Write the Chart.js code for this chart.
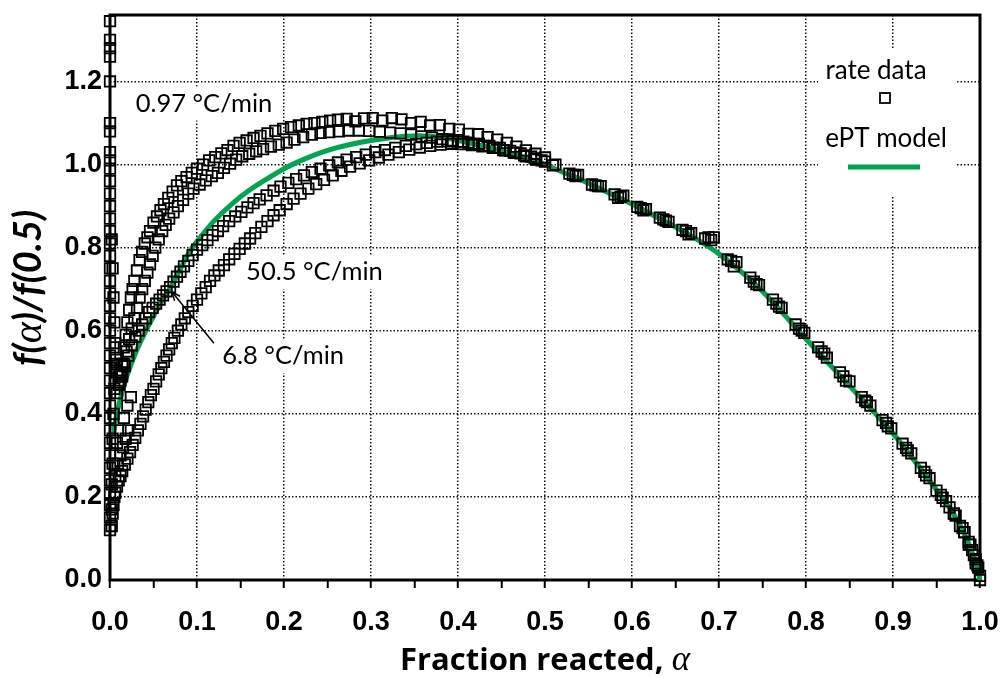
<!DOCTYPE html>
<html>
<head>
<meta charset="utf-8">
<script src="https://cdn.jsdelivr.net/npm/chart.js@4.4.0/dist/chart.umd.min.js"></script>
<style>
  html, body { margin: 0; padding: 0; background: #fff; }
  canvas { display: block; }
</style>
</head>
<body>
<canvas id="chart" width="1003" height="677"></canvas>
<script>
// f(alpha)/f(0.5) vs fraction reacted - rate data at several heating rates + ePT model

// points sitting on (or right next to) the alpha = 0 axis
const axisPoints = [
  [0, 0.12], [0, 0.15], [0, 0.18], [0, 0.21], [0, 0.24], [0, 0.27], [0, 0.30], [0, 0.33],
  [0, 0.36], [0, 0.39], [0, 0.42], [0, 0.45], [0, 0.48], [0, 0.51], [0, 0.54], [0, 0.57],
  [0, 0.60], [0, 0.63], [0, 0.66], [0, 0.69], [0, 0.72], [0, 0.75], [0, 0.78], [0, 0.81],
  [0, 0.84], [0, 0.87], [0, 0.90], [0, 0.93], [0, 0.96], [0, 0.99], [0, 1.01], [0, 1.03],
  [0, 1.08], [0, 1.10], [0, 1.20], [0, 1.26], [0, 1.28], [0, 1.30], [0, 1.345],
  [0.002, 0.17], [0.002, 0.23], [0.003, 0.28], [0.003, 0.34], [0.004, 0.40], [0.005, 0.46],
  [0.006, 0.25], [0.009, 0.28], [0.012, 0.30], [0.015, 0.32], [0.018, 0.34], [0.021, 0.36],
  [0.008, 0.33], [0.012, 0.36], [0.016, 0.39], [0.020, 0.42], [0.024, 0.44]
];

// 0.97 C/min (upper curve)
const rate097 = [
  [0.002, 0.82], [0.003, 0.75], [0.004, 0.68], [0.005, 0.62], [0.006, 0.57], [0.007, 0.53],
  [0.008, 0.50], [0.010, 0.47], [0.012, 0.49], [0.014, 0.52], [0.016, 0.56], [0.018, 0.59],
  [0.020, 0.62], [0.022, 0.65], [0.024, 0.68], [0.026, 0.70], [0.028, 0.72], [0.031, 0.745],
  [0.034, 0.77], [0.037, 0.79], [0.040, 0.81], [0.043, 0.825], [0.046, 0.84], [0.050, 0.86],
  [0.054, 0.875], [0.058, 0.89], [0.062, 0.905], [0.067, 0.92], [0.072, 0.935], [0.077, 0.95],
  [0.082, 0.96], [0.088, 0.97], [0.094, 0.98], [0.100, 0.99], [0.107, 1.0], [0.114, 1.01],
  [0.121, 1.018], [0.128, 1.027], [0.135, 1.035], [0.142, 1.045], [0.149, 1.052], [0.157, 1.058],
  [0.165, 1.064], [0.173, 1.069], [0.181, 1.075], [0.190, 1.081], [0.199, 1.086], [0.208, 1.09],
  [0.217, 1.094], [0.226, 1.098], [0.235, 1.10], [0.244, 1.103], [0.253, 1.106], [0.262, 1.108],
  [0.272, 1.11], [0.282, 1.104], [0.292, 1.111], [0.302, 1.112], [0.313, 1.106], [0.324, 1.112],
  [0.335, 1.109], [0.346, 1.1], [0.357, 1.103], [0.368, 1.094], [0.379, 1.095], [0.390, 1.086],
  [0.401, 1.084], [0.412, 1.074], [0.423, 1.073], [0.434, 1.066], [0.445, 1.06], [0.456, 1.052],
  [0.467, 1.043], [0.478, 1.034], [0.489, 1.026], [0.500, 1.017],
  [0.512, 1.0], [0.538, 0.975], [0.564, 0.948], [0.590, 0.925], [0.616, 0.893], [0.642, 0.862],
  [0.668, 0.835], [0.694, 0.825], [0.720, 0.765], [0.746, 0.71], [0.772, 0.655], [0.798, 0.595],
  [0.824, 0.535], [0.850, 0.478], [0.874, 0.42], [0.898, 0.365], [0.921, 0.305], [0.942, 0.245],
  [0.961, 0.19], [0.972, 0.155], [0.982, 0.115], [0.989, 0.085], [0.995, 0.05], [1.000, 0.01]
];

// second upper curve (unlabelled rate)
const rateMid = [
  [0.006, 0.56], [0.008, 0.52], [0.010, 0.49], [0.012, 0.48], [0.014, 0.50], [0.016, 0.52],
  [0.019, 0.55], [0.022, 0.58], [0.025, 0.605], [0.028, 0.63], [0.031, 0.655], [0.034, 0.68],
  [0.037, 0.70], [0.040, 0.72], [0.043, 0.74], [0.046, 0.76], [0.049, 0.78], [0.052, 0.80],
  [0.056, 0.82], [0.060, 0.84], [0.064, 0.855], [0.068, 0.87], [0.073, 0.885], [0.078, 0.90],
  [0.084, 0.915], [0.090, 0.93], [0.096, 0.942], [0.103, 0.952], [0.110, 0.962], [0.117, 0.972],
  [0.124, 0.98], [0.131, 0.992], [0.138, 1.002], [0.145, 1.012], [0.152, 1.02], [0.160, 1.026],
  [0.168, 1.032], [0.176, 1.037], [0.185, 1.043], [0.194, 1.048], [0.203, 1.053], [0.212, 1.06],
  [0.222, 1.066], [0.232, 1.072], [0.242, 1.076], [0.252, 1.078], [0.263, 1.08], [0.274, 1.082],
  [0.286, 1.082], [0.298, 1.081], [0.310, 1.079], [0.322, 1.077], [0.334, 1.075], [0.346, 1.072],
  [0.358, 1.068], [0.370, 1.065], [0.382, 1.061], [0.394, 1.058], [0.406, 1.055], [0.418, 1.05],
  [0.430, 1.045], [0.442, 1.04], [0.454, 1.034], [0.466, 1.028], [0.478, 1.02], [0.490, 1.012],
  [0.532, 0.975], [0.558, 0.95], [0.584, 0.92], [0.610, 0.895], [0.636, 0.868], [0.662, 0.84],
  [0.688, 0.825], [0.714, 0.768], [0.740, 0.718], [0.766, 0.665], [0.792, 0.605], [0.818, 0.55],
  [0.843, 0.49], [0.868, 0.432], [0.892, 0.378], [0.915, 0.318], [0.936, 0.26], [0.955, 0.205],
  [0.970, 0.16], [0.982, 0.115], [0.991, 0.072], [0.997, 0.035]
];

// 6.8 C/min
const rate68 = [
  [0.008, 0.45], [0.011, 0.47], [0.014, 0.49], [0.017, 0.515], [0.021, 0.54], [0.025, 0.565],
  [0.029, 0.585], [0.033, 0.60], [0.037, 0.615], [0.041, 0.63], [0.045, 0.645], [0.049, 0.655],
  [0.053, 0.665], [0.057, 0.675], [0.061, 0.685], [0.065, 0.695], [0.069, 0.705], [0.073, 0.718],
  [0.077, 0.73], [0.081, 0.742], [0.085, 0.755], [0.090, 0.768], [0.095, 0.782], [0.100, 0.795],
  [0.106, 0.806], [0.112, 0.818], [0.118, 0.83], [0.124, 0.84], [0.130, 0.852], [0.137, 0.864],
  [0.144, 0.875], [0.151, 0.886], [0.158, 0.897], [0.165, 0.907], [0.172, 0.916], [0.180, 0.926],
  [0.188, 0.937], [0.196, 0.947], [0.205, 0.956], [0.214, 0.965], [0.223, 0.974], [0.232, 0.982],
  [0.242, 0.99], [0.252, 0.998], [0.262, 1.005], [0.272, 1.012], [0.283, 1.018], [0.294, 1.024],
  [0.305, 1.03], [0.316, 1.035], [0.328, 1.04], [0.340, 1.045], [0.352, 1.049], [0.364, 1.052],
  [0.376, 1.055], [0.388, 1.056], [0.400, 1.055], [0.412, 1.053], [0.424, 1.05], [0.436, 1.045],
  [0.448, 1.04], [0.460, 1.033], [0.472, 1.027], [0.484, 1.019], [0.496, 1.01],
  [0.509, 0.998], [0.535, 0.972], [0.561, 0.948], [0.587, 0.922], [0.613, 0.89], [0.639, 0.865],
  [0.665, 0.832], [0.691, 0.818], [0.717, 0.755], [0.743, 0.712], [0.769, 0.658], [0.795, 0.60],
  [0.821, 0.545], [0.846, 0.48], [0.870, 0.428], [0.894, 0.37], [0.917, 0.312], [0.938, 0.252],
  [0.957, 0.198], [0.970, 0.16], [0.980, 0.125], [0.987, 0.092], [0.993, 0.06], [0.998, 0.03]
];

// 50.5 C/min (lower curve)
const rate505 = [
  [0.002, 0.13], [0.003, 0.16], [0.004, 0.18], [0.005, 0.20], [0.006, 0.21], [0.008, 0.225],
  [0.010, 0.24], [0.012, 0.25], [0.014, 0.262], [0.017, 0.278], [0.020, 0.292], [0.023, 0.308],
  [0.026, 0.325], [0.029, 0.342], [0.032, 0.36], [0.035, 0.376], [0.038, 0.394], [0.041, 0.41],
  [0.044, 0.428], [0.047, 0.445], [0.050, 0.46], [0.053, 0.478], [0.056, 0.495], [0.059, 0.51],
  [0.062, 0.525], [0.065, 0.54], [0.068, 0.555], [0.071, 0.57], [0.074, 0.583], [0.078, 0.60],
  [0.082, 0.615], [0.086, 0.63], [0.090, 0.645], [0.095, 0.66], [0.100, 0.675], [0.105, 0.69],
  [0.110, 0.705], [0.115, 0.72], [0.120, 0.733], [0.125, 0.745], [0.131, 0.758], [0.137, 0.772],
  [0.143, 0.785], [0.149, 0.797], [0.155, 0.81], [0.161, 0.822], [0.167, 0.835], [0.174, 0.85],
  [0.181, 0.864], [0.188, 0.878], [0.195, 0.89], [0.203, 0.905], [0.211, 0.918], [0.219, 0.93],
  [0.228, 0.942], [0.237, 0.953], [0.246, 0.963], [0.256, 0.974], [0.266, 0.985], [0.276, 0.995],
  [0.287, 1.003], [0.298, 1.01], [0.309, 1.017], [0.320, 1.024], [0.332, 1.03], [0.344, 1.036],
  [0.356, 1.041], [0.368, 1.045], [0.380, 1.048], [0.392, 1.05], [0.404, 1.049], [0.416, 1.047],
  [0.428, 1.044], [0.440, 1.04], [0.452, 1.035], [0.464, 1.029], [0.476, 1.022], [0.488, 1.015],
  [0.500, 1.007],
  [0.528, 0.978], [0.554, 0.952], [0.580, 0.928], [0.606, 0.898], [0.632, 0.872], [0.658, 0.843],
  [0.684, 0.822], [0.710, 0.772], [0.736, 0.728], [0.762, 0.675], [0.788, 0.615], [0.814, 0.56],
  [0.839, 0.50], [0.864, 0.44], [0.888, 0.385], [0.911, 0.328], [0.932, 0.27], [0.950, 0.215],
  [0.965, 0.175], [0.977, 0.13], [0.987, 0.085], [0.995, 0.04], [1.000, 0.0]
];

// ePT model curve
const eptModel = [
  [0.004, 0.35], [0.006, 0.38], [0.010, 0.42], [0.015, 0.46], [0.020, 0.495], [0.030, 0.55],
  [0.040, 0.595], [0.050, 0.635], [0.060, 0.672], [0.070, 0.705], [0.080, 0.745], [0.090, 0.785],
  [0.100, 0.815], [0.120, 0.865], [0.140, 0.905], [0.160, 0.938], [0.180, 0.965], [0.200, 0.99],
  [0.220, 1.01], [0.240, 1.027], [0.260, 1.04], [0.280, 1.05], [0.300, 1.058], [0.320, 1.064],
  [0.340, 1.068], [0.360, 1.069], [0.380, 1.066], [0.400, 1.058], [0.420, 1.049], [0.440, 1.039],
  [0.460, 1.028], [0.480, 1.015], [0.500, 1.0], [0.520, 0.982], [0.540, 0.965], [0.560, 0.945],
  [0.580, 0.925], [0.600, 0.905], [0.620, 0.883], [0.640, 0.861], [0.660, 0.838], [0.680, 0.813],
  [0.700, 0.785], [0.720, 0.752], [0.740, 0.715], [0.760, 0.673], [0.780, 0.627], [0.800, 0.58],
  [0.820, 0.535], [0.840, 0.49], [0.860, 0.445], [0.880, 0.40], [0.900, 0.353], [0.920, 0.30],
  [0.940, 0.245], [0.960, 0.188], [0.970, 0.158], [0.980, 0.12], [0.990, 0.072], [0.995, 0.042],
  [1.000, 0.0]
];

// ticks
const xTickValues = [0, 0.05, 0.1, 0.15, 0.2, 0.25, 0.3, 0.35, 0.4, 0.45, 0.5,
                     0.55, 0.6, 0.65, 0.7, 0.75, 0.8, 0.85, 0.9, 0.95, 1.0];
const xTickLabels = ['0.0', '', '0.1', '', '0.2', '', '0.3', '', '0.4', '', '0.5',
                     '', '0.6', '', '0.7', '', '0.8', '', '0.9', '', '1.0'];
const yTickValues = [0, 0.2, 0.4, 0.6, 0.8, 1.0, 1.2];
const yTickLabels = ['0.0', '0.2', '0.4', '0.6', '0.8', '1.0', '1.2'];

const GREEN = '#00a64f';

function toXY(arr) {
  return arr.map(p => ({ x: p[0], y: p[1] }));
}

function squares(label, arr) {
  return {
    label: label,
    data: toXY(arr),
    showLine: false,
    pointStyle: 'rect',
    pointRadius: 7.4,
    pointBorderWidth: 1.8,
    pointBorderColor: '#000',
    pointBackgroundColor: 'rgba(0,0,0,0)',
    clip: false
  };
}

// text labels and arrow, in data coordinates
const notes = [
  { text: '0.97 \u00B0C/min', x: 0.108, y: 1.147 },
  { text: '50.5 \u00B0C/min', x: 0.235, y: 0.741 },
  { text: '6.8 \u00B0C/min', x: 0.199, y: 0.539 }
];
const arrowFrom = [0.1195, 0.570];
const arrowTo = [0.0713, 0.693];

const decorations = {
  id: 'decorations',
  beforeDatasetsDraw(chart) {
    const { ctx, chartArea: a, scales } = chart;
    const xs = scales.x, ys = scales.y;
    ctx.save();
    // white boxes behind the notes
    ctx.font = '25.5px Lato';
    ctx.textAlign = 'center';
    ctx.textBaseline = 'middle';
    notes.forEach(n => {
      const px = xs.getPixelForValue(n.x), py = ys.getPixelForValue(n.y);
      const w = ctx.measureText(n.text).width;
      ctx.fillStyle = '#fff';
      ctx.fillRect(px - w / 2 - 4, py - 17, w + 8, 34);
      ctx.fillStyle = '#000';
      ctx.fillText(n.text, px, py);
    });
    // legend box
    ctx.fillStyle = '#fff';
    ctx.fillRect(818, 48, 137, 147);
    ctx.fillStyle = '#000';
    ctx.font = '26px Lato';
    ctx.textAlign = 'center';
    ctx.fillText('rate data', 876, 71);
    ctx.fillText('ePT model', 886, 139);
    ctx.strokeStyle = '#000';
    ctx.lineWidth = 1.8;
    ctx.strokeRect(880, 93, 10, 10);
    ctx.strokeStyle = GREEN;
    ctx.lineWidth = 5;
    ctx.beginPath();
    ctx.moveTo(848, 167);
    ctx.lineTo(920, 167);
    ctx.stroke();
    // frame
    ctx.strokeStyle = '#000';
    ctx.lineWidth = 3;
    ctx.strokeRect(a.left, a.top, a.right - a.left, a.bottom - a.top);
    ctx.restore();
  },
  afterDatasetsDraw(chart) {
    const { ctx, scales } = chart;
    const xs = scales.x, ys = scales.y;
    ctx.save();
    // arrow for 6.8 C/min
    const x1 = xs.getPixelForValue(arrowFrom[0]), y1 = ys.getPixelForValue(arrowFrom[1]);
    const x2 = xs.getPixelForValue(arrowTo[0]), y2 = ys.getPixelForValue(arrowTo[1]);
    ctx.strokeStyle = '#000';
    ctx.lineWidth = 1.5;
    ctx.beginPath();
    ctx.moveTo(x1, y1);
    ctx.lineTo(x2, y2);
    ctx.stroke();
    const ang = Math.atan2(y2 - y1, x2 - x1);
    ctx.beginPath();
    ctx.moveTo(x2 - 9 * Math.cos(ang - 0.4), y2 - 9 * Math.sin(ang - 0.4));
    ctx.lineTo(x2, y2);
    ctx.lineTo(x2 - 9 * Math.cos(ang + 0.4), y2 - 9 * Math.sin(ang + 0.4));
    ctx.stroke();

    // x title
    ctx.fillStyle = '#000';
    ctx.textBaseline = 'alphabetic';
    const xt1 = 'Fraction reacted, ';
    ctx.font = 'bold 31px "Open Sans"';
    const w1 = ctx.measureText(xt1).width;
    ctx.font = 'italic 35px "Liberation Serif"';
    const w2 = ctx.measureText('\u03B1').width;
    const sx = 545 - (w1 + w2) / 2;
    ctx.font = 'bold 31px "Open Sans"';
    ctx.textAlign = 'left';
    ctx.fillText(xt1, sx, 670);
    ctx.font = 'italic 35px "Liberation Serif"';
    ctx.fillText('\u03B1', sx + w1, 670);

    // y title, rotated
    ctx.translate(41, 288);
    ctx.rotate(-Math.PI / 2);
    const parts = [
      { t: 'f(', f: 'italic bold 38px Lato' },
      { t: '\u03B1', f: 'italic 40px "Liberation Serif"' },
      { t: ')/f(0.5)', f: 'italic bold 38px Lato' }
    ];
    let total = 0;
    parts.forEach(p => { ctx.font = p.f; p.w = ctx.measureText(p.t).width; total += p.w; });
    let cx = -total / 2;
    parts.forEach(p => { ctx.font = p.f; ctx.fillText(p.t, cx, 0); cx += p.w; });
    ctx.restore();
  }
};

const chart = new Chart(document.getElementById('chart'), {
  type: 'scatter',
  data: {
    datasets: [
      squares('axis', axisPoints),
      squares('0.97 C/min', rate097),
      squares('mid', rateMid),
      squares('6.8 C/min', rate68),
      squares('50.5 C/min', rate505),
      {
        label: 'ePT model',
        data: toXY(eptModel),
        showLine: true,
        borderColor: GREEN,
        borderWidth: 5,
        pointRadius: 0,
        tension: 0.3,
        clip: false
      }
    ]
  },
  options: {
    responsive: false,
    animation: false,
    layout: { padding: { top: 15, right: 23, left: 0, bottom: 0 } },
    plugins: { legend: { display: false }, tooltip: { enabled: false } },
    scales: {
      x: {
        type: 'linear',
        min: 0,
        max: 1,
        afterBuildTicks: s => { s.ticks = xTickValues.map(v => ({ value: v })); },
        afterFit: s => { s.height = 97; s.paddingLeft = 0; s.paddingRight = 0; },
        ticks: {
          autoSkip: false,
          maxRotation: 0,
          padding: 18,
          color: '#000',
          font: { family: '"Liberation Sans"', size: 27, weight: 'bold' },
          callback: (v, i) => xTickLabels[i]
        },
        grid: {
          color: c => (c.tick && xTickLabels[c.index] !== '' ? '#111' : 'rgba(0,0,0,0)'),
          lineWidth: 1.5,
          drawTicks: true,
          tickLength: 8,
          tickColor: '#000',
          tickWidth: 2
        },
        border: { display: false, dash: [1.5, 2] }
      },
      y: {
        type: 'linear',
        min: 0,
        max: 1.36,
        afterBuildTicks: s => { s.ticks = yTickValues.map(v => ({ value: v })); },
        afterFit: s => { s.width = 110; s.paddingTop = 0; s.paddingBottom = 0; },
        ticks: {
          padding: 8,
          color: '#000',
          font: { family: '"Liberation Sans"', size: 27, weight: 'bold' },
          callback: (v, i) => yTickLabels[i]
        },
        grid: {
          color: '#111',
          lineWidth: 1.5,
          drawTicks: false
        },
        border: { display: false, dash: [1.5, 2] }
      }
    }
  },
  plugins: [decorations]
});
</script>
</body>
</html>
